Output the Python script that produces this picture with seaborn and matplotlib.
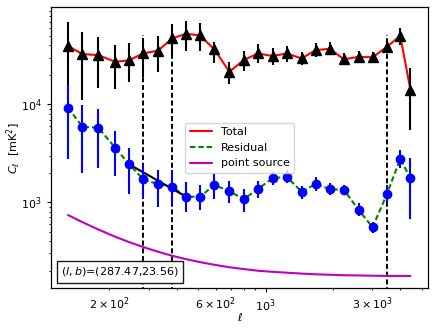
import numpy as np
import pandas as pd
import seaborn as sns
import matplotlib
matplotlib.use("Agg")
import matplotlib.pyplot as plt
from matplotlib.ticker import LogLocator, FuncFormatter
from matplotlib.offsetbox import AnchoredText

# multipole bins
ell = [131, 152, 179, 213, 245, 284, 330, 383, 440, 509, 590, 689, 798, 925, 1075,
       1241, 1449, 1672, 1937, 2237, 2603, 3005, 3482, 3992, 4436]

# total power with error bar bounds
total = [39400, 32600, 31800, 27200, 28100, 33100, 35300, 47100, 52500, 50600, 36400, 21500, 28300,
         33100, 31100, 33100, 29400, 35800, 36900, 28800, 30600, 30200, 38700, 50100, 14000]
total_lo = [15700, 11200, 14600, 14200, 17000, 19000, 21500, 31800, 35300, 35300, 26200, 16100, 21900,
            26500, 25200, 27200, 25200, 30600, 31800, 25200, 27200, 27200, 34400, 40300, 5470]
total_hi = [68700, 55100, 49000, 40300, 41900, 47500, 49800, 65900, 71300, 68100, 43300, 27200, 35300,
            41200, 37200, 39400, 34400, 41900, 43600, 33100, 35300, 34400, 43600, 59700, 23300]

# residual power with error bar bounds
resid = [9230, 5910, 5770, 3600, 2460, 1720, 1530, 1440, 1140, 1140, 1500, 1300, 1075,
         1370, 1760, 1820, 1280, 1540, 1360, 1340, 834, 556, 1215, 2770, 1760]
resid_lo = [2750, 1980, 2220, 1870, 1215, 1110, 900, 960, 795, 834, 1070, 990, 802,
            1100, 1500, 1560, 1070, 1310, 1190, 1190, 725, 490, 1000, 2220, 676]
resid_hi = [15700, 9840, 8960, 5330, 3600, 2400, 2140, 2150, 1610, 1500, 1980, 1660, 1360,
            1660, 2050, 2140, 1470, 1820, 1560, 1500, 977, 634, 1500, 3410, 2850]

# point source model
psrc = [741, 627, 527, 445, 393, 349, 313, 284, 263, 245, 230, 217, 208, 200, 195,
        191, 187, 184, 182, 180, 179, 178, 177, 177, 177]

# power-law fit segment
fit_ell = [245, 430]
fit_cl = [2450, 1180]

# range cuts
ell_cuts = [284, 383, 3480]
cut_top = 51000

xlabeled = [200, 600, 3000]
coord_text = r"$(l, b)$=(287.47,23.56)"

sns.set_theme(style="ticks")
plt.rcParams.update({
    "font.family": ["DejaVu Sans"],
    "font.size": 8, "axes.labelsize": 8, "xtick.labelsize": 8, "ytick.labelsize": 8,
    "legend.fontsize": 8, "axes.edgecolor": "black", "axes.linewidth": 0.9,
    "xtick.color": "black", "ytick.color": "black", "text.color": "black",
    "axes.labelcolor": "black", "xtick.major.size": 3, "ytick.major.size": 3,
    "xtick.minor.size": 1.6, "ytick.minor.size": 1.6,
    "xtick.major.width": 0.8, "ytick.major.width": 0.8,
    "xtick.minor.width": 0.6, "ytick.minor.width": 0.6,
})

df = pd.DataFrame({"ell": ell, "total": total, "resid": resid, "psrc": psrc})

fig, ax = plt.subplots(figsize=(4.36, 3.3), dpi=100)
ax.set(xscale="log", yscale="log")
ax.set_xlim(110, 5320)
ax.set_ylim(132, 98000)

ax.vlines(ell_cuts, 100, cut_top, colors="black", linestyles=(0, (2.6, 1.4)), lw=1.4, zorder=1)

sns.lineplot(data=df, x="ell", y="total", color="#ff0000", lw=1.5, ax=ax, label="Total", zorder=2)
sns.lineplot(data=df, x="ell", y="resid", color="#008000", lw=1.5, linestyle=(0, (2.6, 1.4)),
             ax=ax, label="Residual", zorder=2)
sns.lineplot(data=df, x="ell", y="psrc", color="#c000c0", lw=1.5, ax=ax, label="point source", zorder=2)
sns.lineplot(x=fit_ell, y=fit_cl, color="black", lw=1.5, ax=ax, zorder=3)

t = np.array(total)
r = np.array(resid)
ax.errorbar(ell, total, yerr=[t - np.array(total_lo), np.array(total_hi) - t],
            fmt="^", color="black", ms=6.5, elinewidth=1.5, capsize=0, zorder=4)
ax.errorbar(ell, resid, yerr=[r - np.array(resid_lo), np.array(resid_hi) - r],
            fmt="o", color="#0000ff", ms=6, elinewidth=1.5, capsize=0, zorder=4)

# tick labels
ax.xaxis.set_minor_locator(LogLocator(base=10, subs=np.arange(2, 10)))


def minor_fmt(v, pos):
    for t0 in xlabeled:
        if np.isclose(v, t0):
            e = int(np.floor(np.log10(t0)))
            return r"$\mathdefault{%d\times10^{%d}}$" % (round(t0 / 10**e), e)
    return ""


ax.xaxis.set_minor_formatter(FuncFormatter(minor_fmt))

ax.set_xlabel(r"$\ell$", labelpad=-2)
ax.set_ylabel(r"$C_\ell$  [mK$^2$]", labelpad=-1)

handles, labels = ax.get_legend_handles_labels()
ax.legend(handles[:3], labels[:3], loc="center", frameon=True, fontsize=8)

at = AnchoredText(coord_text, loc="lower left", prop=dict(size=8))
at.patch.set_boxstyle("square,pad=0")
ax.add_artist(at)

fig.subplots_adjust(left=0.117, right=0.982, bottom=0.126, top=0.978)
fig.savefig("out.png", dpi=100)
